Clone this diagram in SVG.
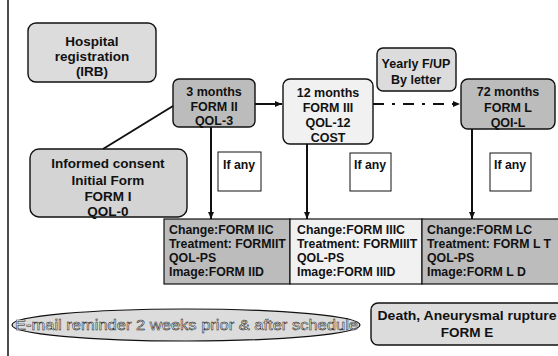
<svg xmlns="http://www.w3.org/2000/svg" width="558" height="356" viewBox="0 0 558 356">
<style>
text{font-family:"Liberation Sans",Arial,sans-serif;font-weight:bold;fill:#111}
.c{text-anchor:middle;font-size:12.5px}
.t{font-size:12.3px}
.box{stroke:#111;stroke-width:1.4}
.dark{fill:#bcbcbc}
.mid{fill:#d4d4d4}
.light{fill:#dcdcdc}
.pale{fill:#f1f1f1}
.ln{stroke:#111;stroke-width:2;fill:none}
</style>
<defs>
<marker id="ah" markerWidth="8" markerHeight="8" refX="7" refY="4" orient="auto" markerUnits="userSpaceOnUse">
<path d="M0,1 L7,4 L0,7 Z" fill="#111"/>
</marker>
</defs>
<rect width="558" height="356" fill="#fff"/>
<line x1="8" y1="0" x2="8" y2="356" stroke="#111" stroke-width="1.5"/>

<g id="hospital">
<rect class="box light" x="28" y="23" width="128" height="59" rx="8"/>
<text class="c" x="92" y="46" style="font-size:13.5px">Hospital</text>
<text class="c" x="92" y="61" style="font-size:13.5px">registration</text>
<text class="c" x="92" y="76" style="font-size:13.5px">(IRB)</text>
</g>

<g id="m3">
<rect class="box dark" x="173" y="79" width="82" height="48" rx="6"/>
<text class="c" x="214" y="96">3 months</text>
<text class="c" x="214" y="111">FORM II</text>
<text class="c" x="214" y="125">QOL-3</text>
</g>

<g id="m12">
<rect class="box pale" x="283" y="79" width="90" height="65" rx="7"/>
<text class="c" x="328" y="97">12 months</text>
<text class="c" x="328" y="112">FORM III</text>
<text class="c" x="328" y="127">QOL-12</text>
<text class="c" x="328" y="142">COST</text>
</g>

<g id="yearly">
<rect class="box light" x="377" y="48" width="79" height="43" rx="6"/>
<text class="c" x="416" y="68">Yearly F/UP</text>
<text class="c" x="416" y="84">By letter</text>
</g>

<g id="m72">
<rect class="box dark" x="461" y="79" width="94" height="50" rx="7"/>
<text class="c" x="508" y="96">72 months</text>
<text class="c" x="508" y="112">FORM L</text>
<text class="c" x="508" y="127">QOI-L</text>
</g>

<g id="consent">
<rect class="box mid" x="30" y="149" width="157" height="68" rx="9"/>
<text class="c" x="108" y="168" style="font-size:13.5px">Informed consent</text>
<text class="c" x="108" y="185" style="font-size:13.5px">Initial Form</text>
<text class="c" x="108" y="201" style="font-size:13.5px">FORM I</text>
<text class="c" x="108" y="216" style="font-size:13.5px">QOL-0</text>
</g>

<g id="ifany1">
<rect x="218" y="152" width="43" height="39" fill="#fff" stroke="#111" stroke-width="1"/>
<text class="t" x="223" y="169">If any</text>
</g>
<g id="ifany2">
<rect x="350" y="153" width="41" height="38" fill="#fff" stroke="#111" stroke-width="1"/>
<text class="t" x="354" y="169">If any</text>
</g>
<g id="ifany3">
<rect x="490" y="153" width="41" height="38" fill="#fff" stroke="#111" stroke-width="1"/>
<text class="t" x="494" y="169">If any</text>
</g>

<g id="cell2">
<rect class="dark" x="164" y="219" width="126" height="65" stroke="#111" stroke-width="1.2"/>
<text class="t" x="169" y="234">Change:FORM IIC</text>
<text class="t" x="169" y="248">Treatment: FORMIIT</text>
<text class="t" x="169" y="262">QOL-PS</text>
<text class="t" x="169" y="276">Image:FORM IID</text>
</g>
<g id="cell3">
<rect class="pale" x="290" y="219" width="132" height="65" stroke="#111" stroke-width="1.2"/>
<text class="t" x="297" y="234">Change:FORM IIIC</text>
<text class="t" x="297" y="248">Treatment: FORMIIIT</text>
<text class="t" x="297" y="262">QOL-PS</text>
<text class="t" x="297" y="276">Image:FORM IIID</text>
</g>
<g id="cellL">
<rect class="dark" x="422" y="219" width="140" height="65" stroke="#111" stroke-width="1.2"/>
<text class="t" x="427" y="234">Change:FORM LC</text>
<text class="t" x="427" y="248">Treatment: FORM L T</text>
<text class="t" x="427" y="262">QOL-PS</text>
<text class="t" x="427" y="276">Image:FORM L D</text>
</g>

<g id="reminder">
<ellipse cx="186" cy="325" rx="174" ry="16" fill="#dcdcdc" stroke="#111" stroke-width="1.2"/>
<text x="15" y="330" textLength="343" lengthAdjust="spacingAndGlyphs" style="font-size:15px;font-weight:normal;fill:#fff;stroke:#111;stroke-width:0.5">E-mail reminder 2 weeks prior &amp; after schedule</text>
</g>

<g id="death">
<rect class="box light" x="371" y="303" width="195" height="42" rx="7"/>
<text x="467" y="320" text-anchor="middle" textLength="179" lengthAdjust="spacingAndGlyphs" style="font-size:13.5px">Death, Aneurysmal rupture</text>
<text class="c" x="467" y="337" style="font-size:13.5px">FORM E</text>
</g>

<g id="connectors">
<line class="ln" x1="103" y1="149" x2="173" y2="106"/>
<line class="ln" x1="255" y1="104" x2="282" y2="104" marker-end="url(#ah)"/>
<line class="ln" x1="373" y1="104" x2="460" y2="104" stroke-dasharray="11,8,3,8" marker-end="url(#ah)"/>
<line class="ln" x1="211" y1="127" x2="211" y2="219" marker-end="url(#ah)"/>
<line class="ln" x1="307" y1="144" x2="307" y2="219" marker-end="url(#ah)"/>
<line class="ln" x1="472" y1="129" x2="472" y2="219" marker-end="url(#ah)"/>
</g>
</svg>
